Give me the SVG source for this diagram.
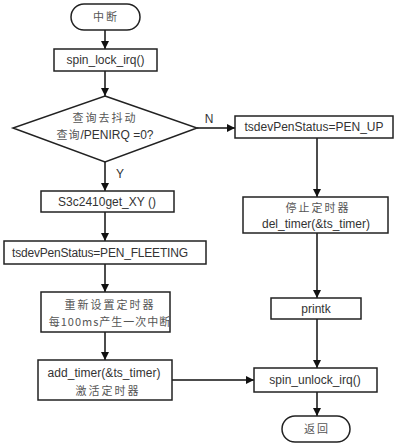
<svg xmlns="http://www.w3.org/2000/svg" width="400" height="446" viewBox="0 0 400 446">
<defs>
<marker id="ah" viewBox="0 0 10 10" refX="10" refY="5" markerWidth="8" markerHeight="8" markerUnits="userSpaceOnUse" orient="auto">
<path d="M0,0 L10,5 L0,10 Z" fill="#111"/>
</marker>
<style>
.box{fill:#fff;stroke:#222;stroke-width:1.5}
.ln{fill:none;stroke:#111;stroke-width:1.5}
.t{font-family:"Liberation Sans","DejaVu Sans",sans-serif;font-size:12px;fill:#333;text-anchor:middle}
.c{font-family:"Noto Sans CJK SC","Noto Sans",sans-serif;font-size:11px;fill:#555;text-anchor:middle;letter-spacing:2px}
</style>
</defs>
<rect width="400" height="446" fill="#fff"/>
<g id="connectors">
<line class="ln" x1="105" y1="30" x2="105" y2="49" marker-end="url(#ah)"/>
<line class="ln" x1="105" y1="71" x2="105" y2="96" marker-end="url(#ah)"/>
<line class="ln" x1="197" y1="128" x2="235" y2="128" marker-end="url(#ah)"/>
<text class="t" x="209" y="123">N</text>
<line class="ln" x1="105" y1="162" x2="105" y2="191" marker-end="url(#ah)"/>
<text class="t" x="120" y="178">Y</text>
<line class="ln" x1="105" y1="212" x2="105" y2="241" marker-end="url(#ah)"/>
<line class="ln" x1="105" y1="264" x2="105" y2="292" marker-end="url(#ah)"/>
<line class="ln" x1="105" y1="332" x2="105" y2="360" marker-end="url(#ah)"/>
<line class="ln" x1="172" y1="380" x2="254" y2="380" marker-end="url(#ah)"/>
<line class="ln" x1="317" y1="138" x2="317" y2="197" marker-end="url(#ah)"/>
<line class="ln" x1="317" y1="233" x2="317" y2="298" marker-end="url(#ah)"/>
<line class="ln" x1="317" y1="319" x2="317" y2="368" marker-end="url(#ah)"/>
<line class="ln" x1="317" y1="392" x2="317" y2="416" marker-end="url(#ah)"/>
</g>
<g id="start">
<rect class="box" x="71" y="4" width="69" height="26" rx="13"/>
<text class="c" x="106" y="21">中断</text>
</g>
<g id="spin_lock">
<rect class="box" x="54" y="49" width="103" height="22"/>
<text class="t" x="105.5" y="64">spin_lock_irq()</text>
</g>
<g id="decision">
<polygon class="box" points="105,96 197,128 105,162 13,128"/>
<text class="c" x="105" y="122">查询去抖动</text>
<text class="t" x="105" y="139"><tspan class="c" style="letter-spacing:1px">查询</tspan>/PENIRQ =0?</text>
</g>
<g id="getxy">
<rect class="box" x="41" y="191" width="133" height="21"/>
<text class="t" x="107" y="206">S3c2410get_XY ()</text>
</g>
<g id="fleeting">
<rect class="box" x="4" y="241" width="202" height="23"/>
<text class="t" x="100" y="257" textLength="176">tsdevPenStatus=PEN_FLEETING</text>
</g>
<g id="reset_timer">
<rect class="box" x="41" y="292" width="129" height="40"/>
<text class="c" x="110" y="309">重新设置定时器</text>
<text class="c" x="110" y="326" style="letter-spacing:1px">每100ms产生一次中断</text>
</g>
<g id="add_timer">
<rect class="box" x="38" y="360" width="134" height="40"/>
<text class="t" x="104" y="377" textLength="113">add_timer(&amp;ts_timer)</text>
<text class="c" x="108" y="395">激活定时器</text>
</g>
<g id="pen_up">
<rect class="box" x="235" y="116" width="158" height="22"/>
<text class="t" x="314" y="131">tsdevPenStatus=PEN_UP</text>
</g>
<g id="del_timer">
<rect class="box" x="243" y="197" width="145" height="36"/>
<text class="c" x="318" y="212">停止定时器</text>
<text class="t" x="316" y="228">del_timer(&amp;ts_timer)</text>
</g>
<g id="printk">
<rect class="box" x="271" y="298" width="90" height="21"/>
<text class="t" x="316" y="313">printk</text>
</g>
<g id="spin_unlock">
<rect class="box" x="254" y="368" width="123" height="24"/>
<text class="t" x="315" y="384">spin_unlock_irq()</text>
</g>
<g id="end">
<rect class="box" x="282" y="416" width="68" height="26" rx="13"/>
<text class="c" x="317" y="433">返回</text>
</g>
</svg>
